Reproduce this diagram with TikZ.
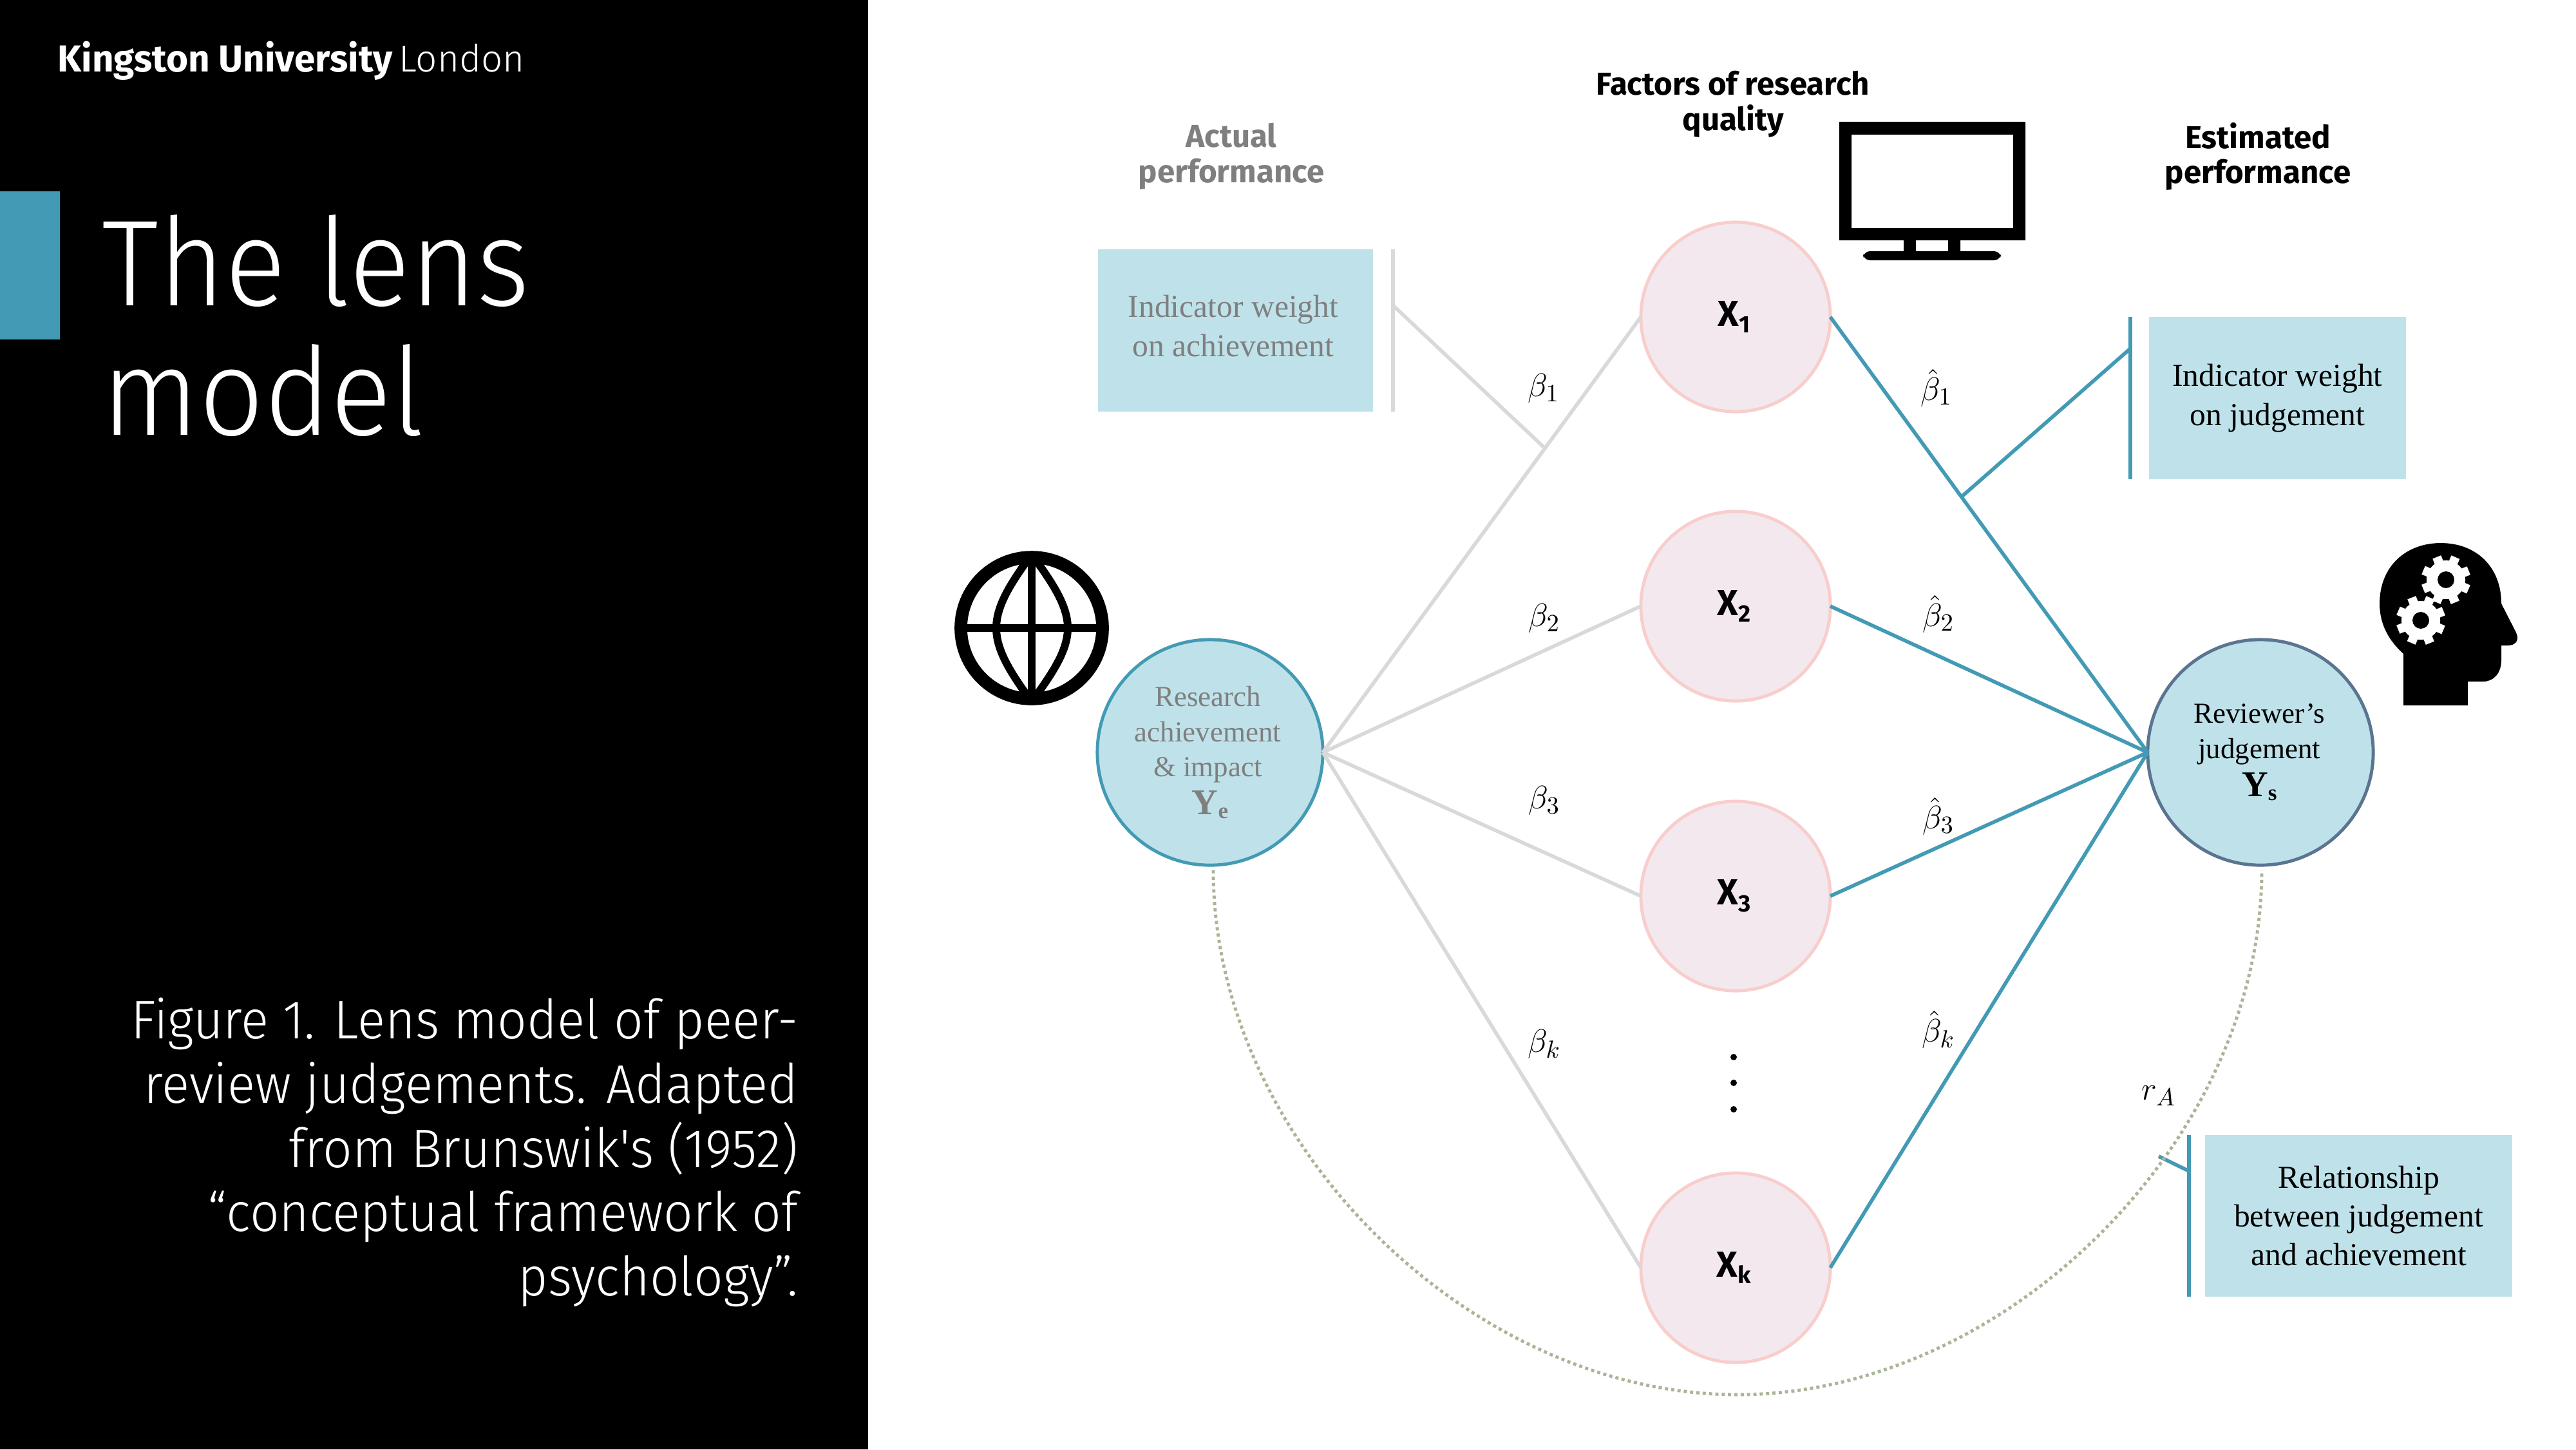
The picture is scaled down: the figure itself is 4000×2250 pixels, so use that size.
\documentclass[tikz,border=0pt]{standalone}
\usepackage[no-math]{fontspec}
\newfontfamily\dinlight{Fira Sans Light}
\newfontfamily\dintitle{Fira Sans Light}[FakeStretch=0.93]
\newfontfamily\dincap{Fira Sans Light}[FakeStretch=0.95]
\newfontfamily\dinbold{Fira Sans}[BoldFont={Fira Sans Bold}]
\newfontfamily\gara{Liberation Serif}
\definecolor{teal}{HTML}{439AB4}
\definecolor{paleblue}{HTML}{BFE2EA}
\definecolor{pinkfill}{HTML}{F3E8EE}
\definecolor{pinkline}{HTML}{F8CECC}
\definecolor{linegrey}{HTML}{D9D9D9}
\definecolor{textgrey}{HTML}{7F7F7F}
\definecolor{ysline}{HTML}{5A7491}
\definecolor{dotolive}{HTML}{A9B596}
\newcommand{\xlabel}[1]{\raisebox{-1.1pt}{\hspace*{-1.5pt}X\raisebox{-0.35ex}{\fontsize{10.5}{10.5}\selectfont #1}}}
\tikzset{
  x=0.01cm,y=-0.01cm,
  factor/.style={circle,draw=pinkline,fill=pinkfill,line width=1.4pt,minimum size=2.94cm,inner sep=0pt,outer sep=0pt,font=\dinbold\bfseries\fontsize{16}{18}\selectfont},
  outcome/.style={circle,draw=teal,fill=paleblue,line width=1.4pt,minimum size=3.5cm,inner sep=0pt,outer sep=0pt,align=center,font=\gara\fontsize{12.8}{15.6}\selectfont},
  infobox/.style={rectangle,fill=paleblue,inner sep=0pt,outer sep=0pt,align=center,font=\gara\fontsize{14.1}{17.2}\selectfont},
  head/.style={align=center,font=\dinbold\bfseries\fontsize{14}{15.6}\selectfont},
  greyline/.style={draw=linegrey,line width=1.6pt},
  tealline/.style={draw=teal,line width=1.6pt},
  coef/.style={font=\fontsize{15}{17}\selectfont,inner sep=0pt},
}
\begin{document}
\begin{tikzpicture}
\useasboundingbox (0,0) rectangle (4000,2250);
\fill[white] (0,0) rectangle (4000,2250);
\fill[black] (0,0) rectangle (1348,2250);
\fill[teal] (0,297) rectangle (93,527);

\node[text=white,anchor=base west,inner sep=0pt,font=\dinbold\fontsize{16.6}{18}\selectfont] (logo) at (89,111)
  {\textbf{Kingston University}\,{\dinlight London}};
\node[text=white,anchor=north west,inner sep=0pt,align=left,font=\dintitle\fontsize{54}{57}\selectfont] (title) at (158,333) {The lens\\model};
\node[text=white,anchor=north east,inner sep=0pt,align=right,font=\dincap\fontsize{24}{28.4}\selectfont] (caption) at (1240,1548)
  {Figure 1. Lens model of peer-\\review judgements. Adapted\\from Brunswik's (1952)\\“conceptual framework of\\psychology”.};

% headers
\node[head,text=textgrey] (hactual) at (1912,243) {Actual\\performance};
\node[head] (hfactors) at (2691,162) {Factors of research\\quality};
\node[head] (hestimated) at (3506,243) {Estimated\\performance};

% monitor icon
\fill[even odd rule] (2856,189) rectangle (3145,373) (2875,209) rectangle (3126,354);
\fill (2956,373) rectangle (2975,392) (3025,373) rectangle (3044,392);
\fill[rounded corners=3pt] (2893,404) -- (2893,390) -- (3107,390) -- (3107,404) -- cycle;

% globe icon
\draw[line width=5.6pt] (1602,975) circle (110);
\draw[line width=3.6pt] (1490,975) -- (1714,975);
\draw[line width=3.4pt] (1602,860) -- (1602,1090);
\draw[line width=3.4pt] (1598,866) .. controls (1570,905) and (1547,940) .. (1547,975) .. controls (1547,1010) and (1570,1045) .. (1598,1084);
\draw[line width=3.4pt] (1606,866) .. controls (1634,905) and (1658,940) .. (1658,975) .. controls (1658,1010) and (1634,1045) .. (1606,1084);

% head icon
\fill (3732,1095) -- (3732,1015) .. controls (3710,995) and (3695,970) .. (3695,937)
  .. controls (3695,880) and (3735,843) .. (3790,843)
  .. controls (3845,843) and (3884,880) .. (3884,937)
  -- (3907,982) .. controls (3913,995) and (3905,1002) .. (3894,1002) -- (3884,1002) -- (3884,1025)
  .. controls (3884,1045) and (3872,1058) .. (3856,1058) -- (3832,1058) -- (3832,1095) -- cycle;
\foreach \gx/\gy in {3798/900,3759/963}{
  \fill[white] (\gx,\gy) circle (30);
  \foreach \ang in {0,45,...,315}{
    \fill[white,rotate around={\ang+22:(\gx,\gy)}] (\gx-7,\gy-38) rectangle (\gx+7,\gy-24);
  }
  \fill[black] (\gx,\gy) circle (13);
}

% nodes
\node[outcome,text=textgrey] (ye) at (1879,1168) {\hspace*{-2pt}Research\\\hspace*{-2pt}achievement\\\hspace*{-2pt}\& impact\\[1pt]{\fontsize{16}{16}\selectfont\textbf{Y}\raisebox{-0.25ex}{\fontsize{10}{10}\selectfont\textbf{e}}}};
\node[outcome,draw=ysline] (ys) at (3510,1168) {\hspace*{-1pt}Reviewer’s\\\hspace*{-1pt}judgement\\[1pt]\hspace*{-1pt}{\fontsize{16}{16}\selectfont\textbf{Y}\raisebox{-0.25ex}{\fontsize{10}{10}\selectfont\textbf{s}}}};
\node[factor] (x1) at (2695,492) {\xlabel{1}};
\node[factor] (x2) at (2695,941) {\xlabel{2}};
\node[factor] (x3) at (2695,1391) {\xlabel{3}};
\node[factor] (xk) at (2695,1968) {\xlabel{k}};

% connectors
\foreach \n in {x1,x2,x3,xk}{
  \draw[greyline] (ye.east) -- (\n.west);
  \draw[tealline] (\n.east) -- (ys.west);
}

% dots
\foreach \dy [count=\i] in {1641,1681,1722}{
  \fill (2692,\dy) circle (5);
}

% info boxes
\node[infobox,text=textgrey,minimum width=4.27cm,minimum height=2.52cm] (b1) at (1918.5,513) {\raisebox{4pt}{\hspace*{-2pt}Indicator weight}\\\raisebox{4pt}{\hspace*{-2pt}on achievement}};
\node[infobox,minimum width=3.99cm,minimum height=2.52cm] (b2) at (3536.5,618) {Indicator weight\\on judgement};
\node[infobox,minimum width=4.77cm,minimum height=2.51cm] (b3) at (3662.5,1887.5) {Relationship\\between judgement\\and achievement};

% brackets
\coordinate (b1top) at (2163,387); \coordinate (b1bot) at (2163,639);
\coordinate (b1tick) at (2163,474); \coordinate (b1foot) at (2397,694);
\draw[greyline] (b1top) -- (b1bot);
\draw[greyline] (b1tick) -- (b1foot);
\coordinate (b2top) at (3308,492); \coordinate (b2bot) at (3308,744);
\coordinate (b2tick) at (3308,541); \coordinate (b2foot) at (3046,771);
\draw[tealline] (b2top) -- (b2bot);
\draw[tealline] (b2tick) -- (b2foot);
\coordinate (b3top) at (3399,1762); \coordinate (b3bot) at (3399,2013);
\coordinate (b3tick) at (3399,1818); \coordinate (b3foot) at (3352,1795);
\draw[tealline] (b3top) -- (b3bot);
\draw[tealline] (b3tick) -- (b3foot);

% achievement arc
\coordinate (arcstart) at (1884,1351); \coordinate (arcmid) at (2698,2165); \coordinate (arcend) at (3512,1351);
\draw[dotolive,line width=1.4pt,dash pattern=on 1.4pt off 1.4pt]
  (arcstart) .. controls (1884,1769) and (2280,2165) .. (arcmid)
  .. controls (3116,2165) and (3512,1769) .. (arcend);

% coefficient labels
\node[coef] (l1) at (2397,603) {$\beta_1$};
\node[coef] (l2) at (2398,960) {$\beta_2$};
\node[coef] (l3) at (2398,1243) {$\beta_3$};
\node[coef] (lk) at (2398,1621) {$\beta_k$};
\node[coef] (h1) at (3007,602) {$\hat{\beta}_1$};
\node[coef] (h2) at (3010,953) {$\hat{\beta}_2$};
\node[coef] (h3) at (3010,1267) {$\hat{\beta}_3$};
\node[coef] (hk) at (3010,1598) {$\hat{\beta}_k$};
\node[coef] (ra) at (3352,1701) {$r_A$};
\end{tikzpicture}
\end{document}
